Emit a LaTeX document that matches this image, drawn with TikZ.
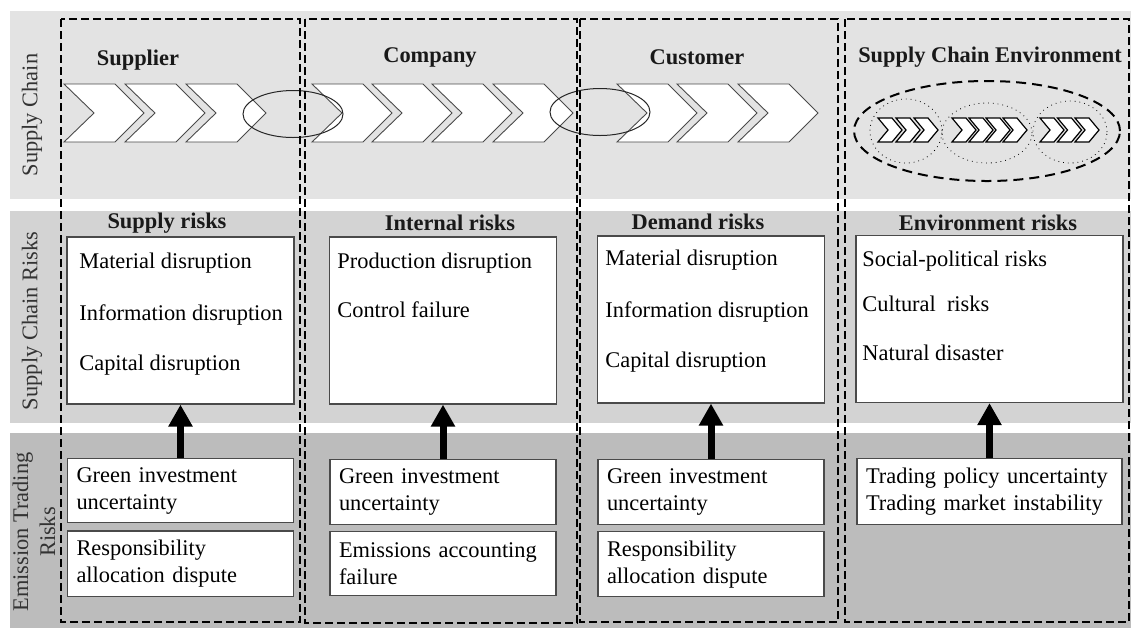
\documentclass[tikz,border=0pt]{standalone}
\usepackage{fontspec}
\setmainfont{Liberation Serif}
\usetikzlibrary{arrows.meta}
\usetikzlibrary{positioning}
\definecolor{bandtop}{HTML}{E3E3E3}
\definecolor{bandmid}{HTML}{D3D3D3}
\definecolor{bandlow}{HTML}{BCBCBC}
\definecolor{edge}{HTML}{4A4A4A}
\newcommand\riskwidth{113.5pt}
\newcommand\riskheight{83.5pt}
\newcommand\tradewidth{113pt}
\newcommand\tradeheight{32pt}
\tikzset{
    chainbox/.style = {dash pattern=on 4pt off 2pt, line width=0.9pt},
    chevron/.style = {draw=edge, fill=white, line width=0.45pt},
    linkring/.style = {draw=black!85, line width=0.5pt},
    envring/.style = {dash pattern=on 5pt off 3pt, line width=1pt},
    subring/.style = {dotted, line width=0.4pt},
    uparrow/.style = {-{Triangle[width=11.5pt,length=11pt]}, line width=3.5pt},
}
\tikzset{
    sidelabel/.style = {rotate=90, text=black!80, align=center},
    head/.style = {font=\fontsize{11.2}{13.5}\selectfont\bfseries, text=black!90},
    riskbox/.style = {draw=edge, fill=white, line width=0.6pt, minimum width=\riskwidth, minimum height=\riskheight},
    item/.style = {anchor=west, inner sep=0pt},
    tradebox/.style = {draw=edge, fill=white, line width=0.6pt, text width=\tradewidth-9pt, inner sep=4.5pt, minimum height=\tradeheight, align=left},
    bigchev/.pic = {\draw[chevron] (0,0) -- (51,0) -- (80,29) -- (51,58) -- (0,58) -- (30,29) -- cycle;},
    smallchev/.pic = {\draw[chevron, draw=black, line width=0.6pt] (0,0) -- (14,0) -- (24,12) -- (14,24) -- (0,24) -- (10,12) -- cycle;},
}
\begin{document}
\begin{tikzpicture}[x=0.5pt, y=-0.5pt, every node/.style={font=\fontsize{11.2}{13.5}\selectfont}]
    \useasboundingbox (0,0) rectangle (1131,629);
    % bands
    \fill[bandtop] (10,11) rectangle (1131,199);
    \fill[bandmid] (10,211) rectangle (1131,423);
    \fill[bandlow] (10,433) rectangle (1131,628);
    \node[sidelabel] (lchain) at (32,115) {Supply Chain};
    \node[sidelabel] (lrisk) at (32,321) {Supply Chain Risks};
    \node[sidelabel] (ltrade) at (34,532) {Emission Trading\\Risks};

    % supply chain
    \foreach \x in {64,125,186} \pic at (\x,84) {bigchev};
    \foreach \x in {312,372,432,493} \pic at (\x,84) {bigchev};
    \foreach \x in {617,677,738} \pic at (\x,84) {bigchev};
    \draw[linkring] (293,114) ellipse [x radius=25pt, y radius=11.75pt];
    \draw[linkring] (600,112) ellipse [x radius=25pt, y radius=11.75pt];
    \node[head] (supplier) at (138,60) {Supplier};
    \node[head] (company) at (430,57) {Company};
    \node[head] (customer) at (697,57) {Customer};
    \node[head] (environment) at (990,57) {Supply Chain Environment};

    % environment chains
    \draw[envring] (987,131) ellipse [x radius=66.5pt, y radius=25pt];
    \draw[subring] (906,131) ellipse [x radius=18pt, y radius=16pt];
    \draw[subring] (987,133) ellipse [x radius=22.5pt, y radius=15pt];
    \draw[subring] (1070,132) ellipse [x radius=18.5pt, y radius=15.5pt];
    \foreach \x in {878,896,914} \pic at (\x,118) {smallchev};
    \foreach \x in {952,969,986,1003} \pic at (\x,118) {smallchev};
    \foreach \x in {1040,1057.5,1075} \pic at (\x,118) {smallchev};

    % supply chain risks
    \node[riskbox] (srisk) at (180.5,320.5) {};
    \node[riskbox] (irisk) at (443,320.5) {};
    \node[riskbox] (drisk) at (711,319.5) {};
    \node[riskbox, minimum width=133.5pt] (erisk) at (989.5,319) {};
    \node[head] (supplyrisks) at (167,223) {Supply risks};
    \node[head] (internalrisks) at (450,223) {Internal risks};
    \node[head] (demandrisks) at (698,222) {Demand risks};
    \node[head] (envrisks) at (988,223) {Environment risks};
    \node[item] (smat) at (79,263) {Material disruption};
    \node[item] (sinf) at (79,315) {Information disruption};
    \node[item] (scap) at (79,365) {Capital disruption};
    \node[item] (iprod) at (337,263) {Production disruption};
    \node[item] (ictrl) at (337,310) {Control failure};
    \node[item] (dmat) at (605,260) {Material disruption};
    \node[item] (dinf) at (605,312) {Information disruption};
    \node[item] (dcap) at (605,362) {Capital disruption};
    \node[item] (esoc) at (862,261) {Social-political risks};
    \node[item] (ecult) at (862,304) {Cultural~ risks};
    \node[item] (enat) at (862,353) {Natural disaster};

    % emission trading risks
    \node[tradebox] (sgreen) at (180.5,490.5) {Green investment\\uncertainty};
    \node[tradebox, below=3.5pt of sgreen] (sresp) {Responsibility\\allocation dispute};
    \node[tradebox] (igreen) at (443,492) {Green investment\\uncertainty};
    \node[tradebox, below=3pt of igreen] (iacc) {Emissions accounting\\failure};
    \node[tradebox] (dgreen) at (711,492) {Green investment\\uncertainty};
    \node[tradebox, below=3pt of dgreen] (dresp) {Responsibility\\allocation dispute};
    \node[tradebox, text width=123.5pt] (etrade) at (989.5,491.5) {Trading policy uncertainty\\Trading market instability};

    \draw[uparrow] (sgreen.north) -- (srisk.south);
    \draw[uparrow] (igreen.north) -- (irisk.south);
    \draw[uparrow] (dgreen.north) -- (drisk.south);
    \draw[uparrow] (etrade.north) -- (erisk.south);

    % stages
    \draw[chainbox] (61,19) rectangle (300,622);
    \draw[chainbox] (305,19) rectangle (577,623);
    \draw[chainbox] (580,19) rectangle (838,622);
    \draw[chainbox] (845,19) rectangle (1129,622);
\end{tikzpicture}
\end{document}
